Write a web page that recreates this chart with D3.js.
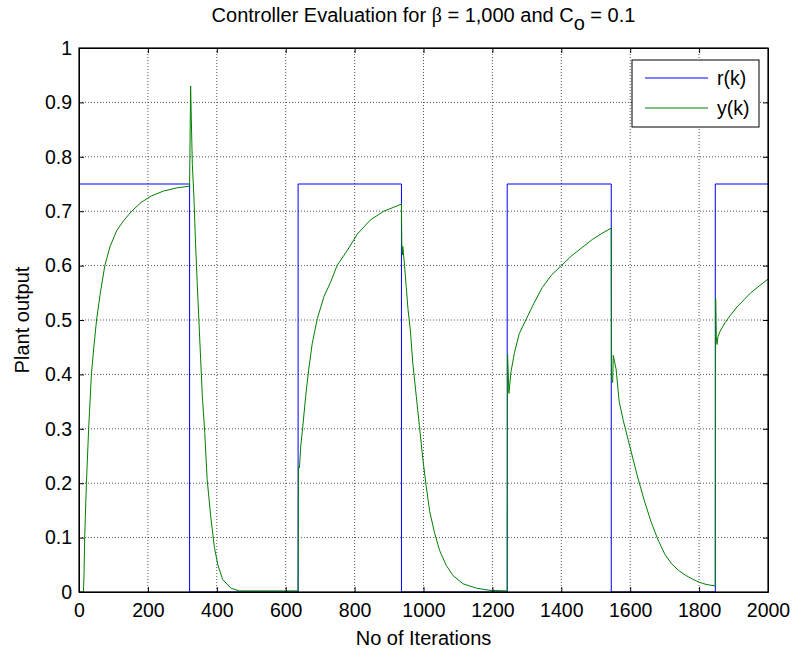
<!DOCTYPE html>
<html>
<head>
<meta charset="utf-8">
<script src="https://cdn.jsdelivr.net/npm/d3@7"></script>
<style>
body { margin: 0; background: #fff; }
text { font-family: "Liberation Sans", Arial, sans-serif; }
</style>
</head>
<body>
<div id="chart"></div>
<script>
// reference r(k): switching iterations and levels
var rIter = [0, 321, 636, 936, 1243, 1545, 1847, 2000];
var rVal  = [0.75, 0, 0.75, 0, 0.75, 0, 0.75, 0.75];

// plant output y(k)
var yIter = [0, 13, 14.5, 16.5, 21.5, 28, 36, 43, 51, 62, 75, 90, 110, 130, 153, 180, 210, 245, 285, 321,
  324, 326, 329, 334, 338, 343, 348, 353, 358, 365, 372, 382, 393, 403, 417, 441, 465, 636,
  637, 640, 644, 649, 658, 667, 677, 692, 711, 730, 749, 779, 808, 846, 885, 936,
  937, 939, 940, 945, 950, 955, 962, 969, 979, 988, 998, 1008, 1018, 1032, 1047, 1066, 1086, 1115, 1154, 1193, 1243,
  1244, 1248, 1254, 1264, 1278, 1297, 1320, 1345, 1372, 1400, 1430, 1460, 1490, 1520, 1545,
  1546, 1549, 1551, 1554, 1559, 1568, 1580, 1600, 1620, 1640, 1660, 1680, 1700, 1720, 1740, 1760, 1780, 1800, 1820, 1847,
  1848, 1850, 1852, 1855, 1860, 1875, 1890, 1910, 1930, 1950, 1975, 2000];
var yVal = [0, 0, 0.03, 0.1, 0.2, 0.3, 0.4, 0.45, 0.5, 0.55, 0.6, 0.635, 0.665, 0.683, 0.7, 0.716, 0.728, 0.737, 0.743, 0.746,
  0.93, 0.87, 0.786, 0.72, 0.645, 0.57, 0.5, 0.43, 0.36, 0.293, 0.207, 0.141, 0.082, 0.05, 0.023, 0.007, 0.002, 0.002,
  0.23, 0.228, 0.27, 0.3, 0.36, 0.41, 0.457, 0.503, 0.543, 0.569, 0.6, 0.628, 0.658, 0.684, 0.7, 0.713,
  0.64, 0.62, 0.635, 0.6, 0.56, 0.52, 0.48, 0.42, 0.36, 0.306, 0.245, 0.194, 0.148, 0.109, 0.076, 0.049, 0.03, 0.015, 0.007, 0.003, 0.002,
  0.4375, 0.365, 0.405, 0.44, 0.475, 0.5, 0.53, 0.56, 0.583, 0.6, 0.618, 0.633, 0.648, 0.66, 0.669,
  0.39, 0.385, 0.435, 0.425, 0.41, 0.35, 0.315, 0.265, 0.215, 0.17, 0.13, 0.097, 0.07, 0.052, 0.04, 0.031, 0.024, 0.018, 0.014, 0.011,
  0.54, 0.47, 0.455, 0.47, 0.478, 0.495, 0.508, 0.524, 0.537, 0.55, 0.563, 0.575];

var xTicks = [0, 200, 400, 600, 800, 1000, 1200, 1400, 1600, 1800, 2000];
var xTickLabels = ["0", "200", "400", "600", "800", "1000", "1200", "1400", "1600", "1800", "2000"];
var yTicks = [0, 0.1, 0.2, 0.3, 0.4, 0.5, 0.6, 0.7, 0.8, 0.9, 1];
var yTickLabels = ["0", "0.1", "0.2", "0.3", "0.4", "0.5", "0.6", "0.7", "0.8", "0.9", "1"];

var seriesNames = ["r(k)", "y(k)"];
var seriesColors = ["#0000ff", "#008000"];

// dimensions
var W = 794, H = 651;
var margin = {top: 48, right: 26, bottom: 59, left: 79},
    width = W - margin.left - margin.right,
    height = H - margin.top - margin.bottom;

var svg = d3.select("#chart")
  .append("svg")
  .attr("width", W)
  .attr("height", H)
  .append("g")
  .attr("transform", "translate(" + margin.left + "," + margin.top + ")");

var x = d3.scaleLinear().domain([0, 2000]).range([0, width]);
var y = d3.scaleLinear().domain([0, 1]).range([height, 0]);

// grid (dotted)
svg.append("g").selectAll("line")
  .data(xTicks.slice(1, -1))
  .enter().append("line")
  .attr("x1", d => x(d)).attr("x2", d => x(d))
  .attr("y1", 0).attr("y2", height)
  .attr("stroke", "#555").attr("stroke-dasharray", "1,2");
svg.append("g").selectAll("line")
  .data(yTicks.slice(1, -1))
  .enter().append("line")
  .attr("y1", d => y(d)).attr("y2", d => y(d))
  .attr("x1", 0).attr("x2", width)
  .attr("stroke", "#555").attr("stroke-dasharray", "1,2");

// r(k)
var rData = rIter.map((d, i) => [d, rVal[i]]);
svg.append("path")
  .datum(rData)
  .attr("fill", "none")
  .attr("stroke", seriesColors[0])
  .attr("stroke-width", 1)
  .attr("d", d3.line().curve(d3.curveStepAfter).x(d => x(d[0])).y(d => y(d[1])));

// y(k)
var yData = yIter.map((d, i) => [d, yVal[i]]);
svg.append("path")
  .datum(yData)
  .attr("fill", "none")
  .attr("stroke", seriesColors[1])
  .attr("stroke-width", 1)
  .attr("d", d3.line().x(d => x(d[0])).y(d => y(d[1])));

// axes, ticks pointing inward like matlab
var fmtX = (d, i) => xTickLabels[i];
var fmtY = (d, i) => yTickLabels[i];

svg.append("g")
  .attr("transform", "translate(0," + height + ")")
  .call(d3.axisBottom(x).tickValues(xTicks).tickFormat(fmtX).tickSizeInner(-5).tickSizeOuter(0).tickPadding(11));
svg.append("g")
  .call(d3.axisLeft(y).tickValues(yTicks).tickFormat(fmtY).tickSizeInner(-5).tickSizeOuter(0).tickPadding(7));
svg.append("g")
  .call(d3.axisTop(x).tickValues(xTicks).tickFormat("").tickSizeInner(-5).tickSizeOuter(0));
svg.append("g")
  .attr("transform", "translate(" + width + ",0)")
  .call(d3.axisRight(y).tickValues(yTicks).tickFormat("").tickSizeInner(-5).tickSizeOuter(0));

svg.selectAll(".tick text")
  .style("font-size", "19.5px")
  .style("font-family", "'Liberation Sans', Arial, sans-serif")
  .attr("fill", "#000");
svg.selectAll(".domain, .tick line").attr("stroke", "#000");

// box
svg.append("rect")
  .attr("width", width).attr("height", height)
  .attr("fill", "none").attr("stroke", "#000").attr("stroke-width", 1.2);

// labels
svg.append("text")
  .attr("x", width / 2).attr("y", 597)
  .attr("text-anchor", "middle")
  .style("font-size", "20px")
  .text("No of Iterations");

svg.append("text")
  .attr("transform", "translate(-50," + (height / 2) + ")rotate(-90)")
  .attr("text-anchor", "middle")
  .style("font-size", "20px")
  .text("Plant output");

var title = svg.append("text")
  .attr("x", width / 2).attr("y", -26)
  .attr("text-anchor", "middle")
  .style("font-size", "20px");
title.append("tspan").text("Controller Evaluation for ");
title.append("tspan").style("font-family", "'Liberation Serif', serif").text("\u03b2");
title.append("tspan").text(" = 1,000 and C");
title.append("tspan").attr("dy", "0.4em").text("o");
title.append("tspan").attr("dy", "-0.4em").text(" = 0.1");

// legend
var leg = svg.append("g").attr("transform", "translate(" + (632 - margin.left) + "," + (60 - margin.top) + ")");
leg.append("rect")
  .attr("width", 127).attr("height", 67)
  .attr("fill", "#fff").attr("stroke", "#000").attr("stroke-width", 1);
seriesNames.forEach(function(name, i) {
  leg.append("line")
    .attr("x1", 13).attr("x2", 76)
    .attr("y1", 18 + i * 30).attr("y2", 18 + i * 30)
    .attr("stroke", seriesColors[i]);
  leg.append("text")
    .attr("x", 85).attr("y", 18 + i * 30)
    .attr("dy", "0.35em")
    .style("font-size", "19.5px")
    .text(name);
});
</script>
</body>
</html>
